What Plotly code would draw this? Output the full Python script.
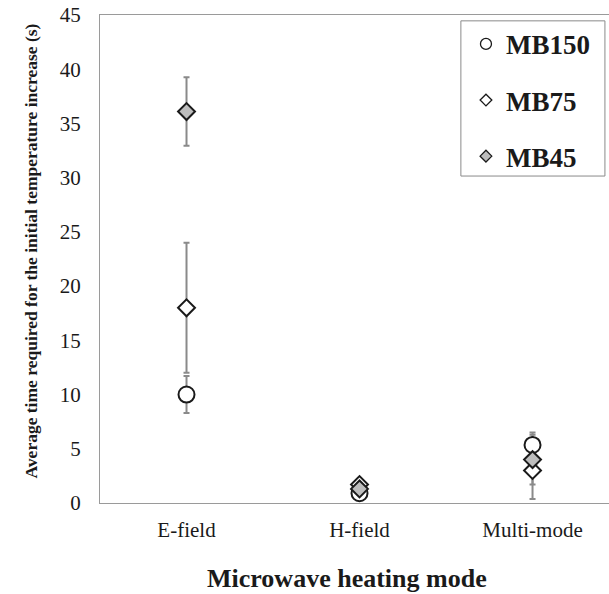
import plotly.graph_objects as go

categories = ["E-field", "H-field", "Multi-mode"]
series_names = ["MB150", "MB75", "MB45"]
mb150 = [10.0, 0.9, 5.35]
mb150_sd = [1.7, 0.5, 1.15]
mb75 = [18.0, 1.7, 3.0]
mb75_sd = [6.0, 0.3, 2.64]
mb45 = [36.1, 1.3, 4.0]
mb45_sd = [3.15, 0.3, 2.3]
y_ticks = [0, 5, 10, 15, 20, 25, 30, 35, 40, 45]

values = [mb150, mb75, mb45]
sds = [mb150_sd, mb75_sd, mb45_sd]
symbols = ["circle", "diamond", "diamond"]
fills = ["white", "white", "#bdbdbd"]
sizes = [16, 13, 13]
leg_sizes = [11, 9, 9]

FONT = "Liberation Serif"
fig = go.Figure()

# error bars first (beneath all markers)
for name, v, sd in zip(series_names, values, sds):
    fig.add_trace(go.Scatter(
        x=categories, y=v, mode="markers",
        marker=dict(size=1, color="rgba(0,0,0,0)"),
        error_y=dict(type="data", array=sd, visible=True, color="#8a8a8a", thickness=2, width=3),
        showlegend=False, hoverinfo="skip"))

for name, v, sym, fill, sz in zip(series_names, values, symbols, fills, sizes):
    marker = dict(symbol=sym, size=sz, color=fill, line=dict(color="#1a1a1a", width=2))
    fig.add_trace(go.Scatter(x=categories, y=v, mode="markers", marker=marker,
                             name=name, showlegend=False))

for i, (name, sym, fill, lsz) in enumerate(zip(series_names, symbols, fills, leg_sizes)):
    fig.add_trace(go.Scatter(x=[None], y=[None], mode="markers", name=name,
                             legendgroup=name,
                             marker=dict(symbol=sym, size=lsz, color=fill,
                                         line=dict(color="#1a1a1a", width=1.3))))

fig.update_layout(
    width=609, height=594,
    margin=dict(l=100, r=0, t=15, b=91),
    paper_bgcolor="white", plot_bgcolor="white",
    font=dict(family=FONT, color="#1a1a1a"),
    showlegend=True,
    legend=dict(x=0.719, y=0.99, xanchor="left", yanchor="top",
                font=dict(family=FONT, size=27, weight="bold", color="#1a1a1a"),
                bgcolor="rgba(0,0,0,0)", borderwidth=0,
                tracegroupgap=18, traceorder="grouped", itemsizing="trace"),
    xaxis=dict(type="category", range=[-0.5, 2.442], showline=True, linecolor="#9a9a9a",
               linewidth=1, mirror=True, ticks="", showgrid=False, zeroline=False,
               tickfont=dict(family=FONT, size=21, color="#1a1a1a"), ticklabelstandoff=8),
    yaxis=dict(range=[0, 45], tickvals=y_ticks, showline=True, linecolor="#9a9a9a",
               linewidth=1, ticks="", showgrid=False, zeroline=False,
               tickfont=dict(family=FONT, size=21, color="#1a1a1a"), ticklabelstandoff=14),
    shapes=[dict(type="rect", xref="paper", yref="paper",
                 x0=0.709, x1=0.992, y0=0.670, y1=0.988,
                 line=dict(color="#8a8a8a", width=1), fillcolor="rgba(0,0,0,0)")],
    annotations=[
        dict(text="Microwave heating mode", xref="paper", yref="paper",
             x=0.486, y=-0.1537, xanchor="center", yanchor="middle", showarrow=False,
             font=dict(family=FONT, size=26, weight="bold", color="#1a1a1a")),
        dict(text="Average time required for the initial temperature increase (s)",
             xref="paper", yref="paper", x=-0.135, y=0.516, xanchor="center",
             yanchor="middle", textangle=-90, showarrow=False,
             font=dict(family=FONT, size=17.5, weight="bold", color="#1a1a1a")),
    ],
)

fig.write_html("out.html")
